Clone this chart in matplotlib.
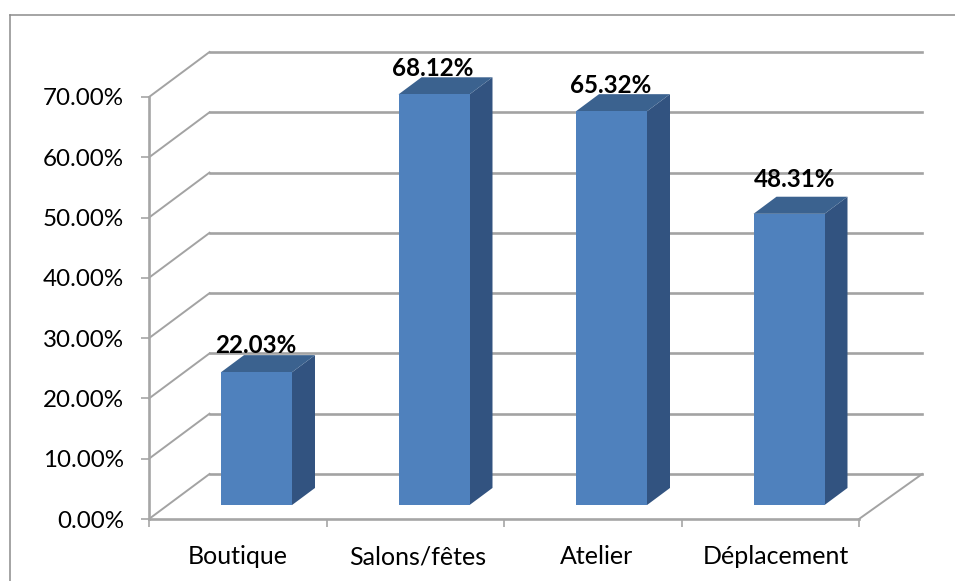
import matplotlib
matplotlib.use('Agg')
from matplotlib import pyplot as plt
from matplotlib.lines import Line2D

plt.rcParams['font.family'] = ['Lato', 'DejaVu Sans']

categories = ['Boutique', 'Salons/fêtes', 'Atelier', 'Déplacement']
values = [22.03, 68.12, 65.32, 48.31]
value_labels = ['22.03%', '68.12%', '65.32%', '48.31%']
y_ticks = [0, 10, 20, 30, 40, 50, 60, 70]
y_labels = ['0.00%', '10.00%', '20.00%', '30.00%', '40.00%', '50.00%', '60.00%', '70.00%']

W, H = 955, 581
GRID = '#a3a3a3'
AXIS = '#a6a6a6'

# 3d look: one unit of depth shifts a point right and up on the page
depth_x = 60.5 / 177.5
depth_y = 45 / 6.03
bar_w = 0.4
d0, d1 = 0.31, 0.69
back_over = 0.015   # back wall runs a bit further than the floor front


def proj(x, y, d):
    return x + d * depth_x, y + d * depth_y


fig = plt.figure(figsize=(W / 100, H / 100), dpi=100)
ax = fig.add_axes([149 / W, 1 - 519 / H, 710 / W, 422 / H])
ax.set_xlim(0, 4)
ax.set_ylim(0, 70)
ax.patch.set_visible(False)

# frame of the chart, right and bottom edges are cut off by the picture
fig.add_artist(Line2D([9.5 / W, 9.5 / W], [0, 1 - 14.5 / H], color='#8c8c8c', lw=1.1))
fig.add_artist(Line2D([9.5 / W, 1], [1 - 14.5 / H, 1 - 14.5 / H], color='#8c8c8c', lw=1.1))

# side wall and back wall gridlines
for v in y_ticks:
    bx, by = proj(0, v, 1)
    ex, ey = proj(4 + back_over, v, 1)
    ax.plot([0, bx], [v, by], color=GRID, lw=1.4, clip_on=False, zorder=1)
    ax.plot([bx, ex], [by, ey], color=GRID, lw=1.9, clip_on=False, zorder=1)

# floor edges
fx, fy = proj(4 + back_over, 0, 1)
ax.plot([4, fx], [0, fy], color=GRID, lw=1.4, clip_on=False, zorder=1)

for i, v in enumerate(values):
    left = i + 0.5 - bar_w / 2
    right = i + 0.5 + bar_w / 2
    pts = [proj(right, 0, d0), proj(right, 0, d1), proj(right, v, d1), proj(right, v, d0)]
    ax.fill(*zip(*pts), color='#325380', lw=0, clip_on=False, zorder=3)
    pts = [proj(left, v, d0), proj(right, v, d0), proj(right, v, d1), proj(left, v, d1)]
    ax.fill(*zip(*pts), color='#3b628f', lw=0, clip_on=False, zorder=3)
    pts = [proj(left, 0, d0), proj(right, 0, d0), proj(right, v, d0), proj(left, v, d0)]
    ax.fill(*zip(*pts), color='#4f81bd', lw=0, clip_on=False, zorder=4)

# data labels, the last one sits a little higher than the others
label_dx = [-1, -1, -1, 6]
label_dy = [27, 26, 26, 34]
for i, v in enumerate(values):
    x, y = proj(i + 0.5, v, d0)
    ax.annotate(value_labels[i], (x, y), xytext=(label_dx[i] * 0.72, label_dy[i] * 0.72),
                textcoords='offset points', ha='center', va='center',
                fontsize=17.4, fontweight='bold', color='black', zorder=5, annotation_clip=False)

for s in ['top', 'right']:
    ax.spines[s].set_visible(False)
for s in ['left', 'bottom']:
    ax.spines[s].set_color(AXIS)
    ax.spines[s].set_linewidth(1.9)

ax.set_yticks(y_ticks)
ax.set_yticklabels(y_labels)
ax.tick_params(axis='y', length=6, width=1.2, color=AXIS, labelsize=17.4, pad=12, labelcolor='black')
ax.set_xticks([0, 1, 2, 3, 4], minor=True)
# category labels drift slightly right of the slot centres in the original
ax.set_xticks([0.5, 1.513, 2.521, 3.532])
ax.set_xticklabels(categories)
ax.tick_params(axis='x', which='major', length=0, labelsize=18, pad=19, labelcolor='black')
ax.tick_params(axis='x', which='minor', length=6, width=1.2, color=AXIS)

fig.savefig('out.png', dpi=100)
